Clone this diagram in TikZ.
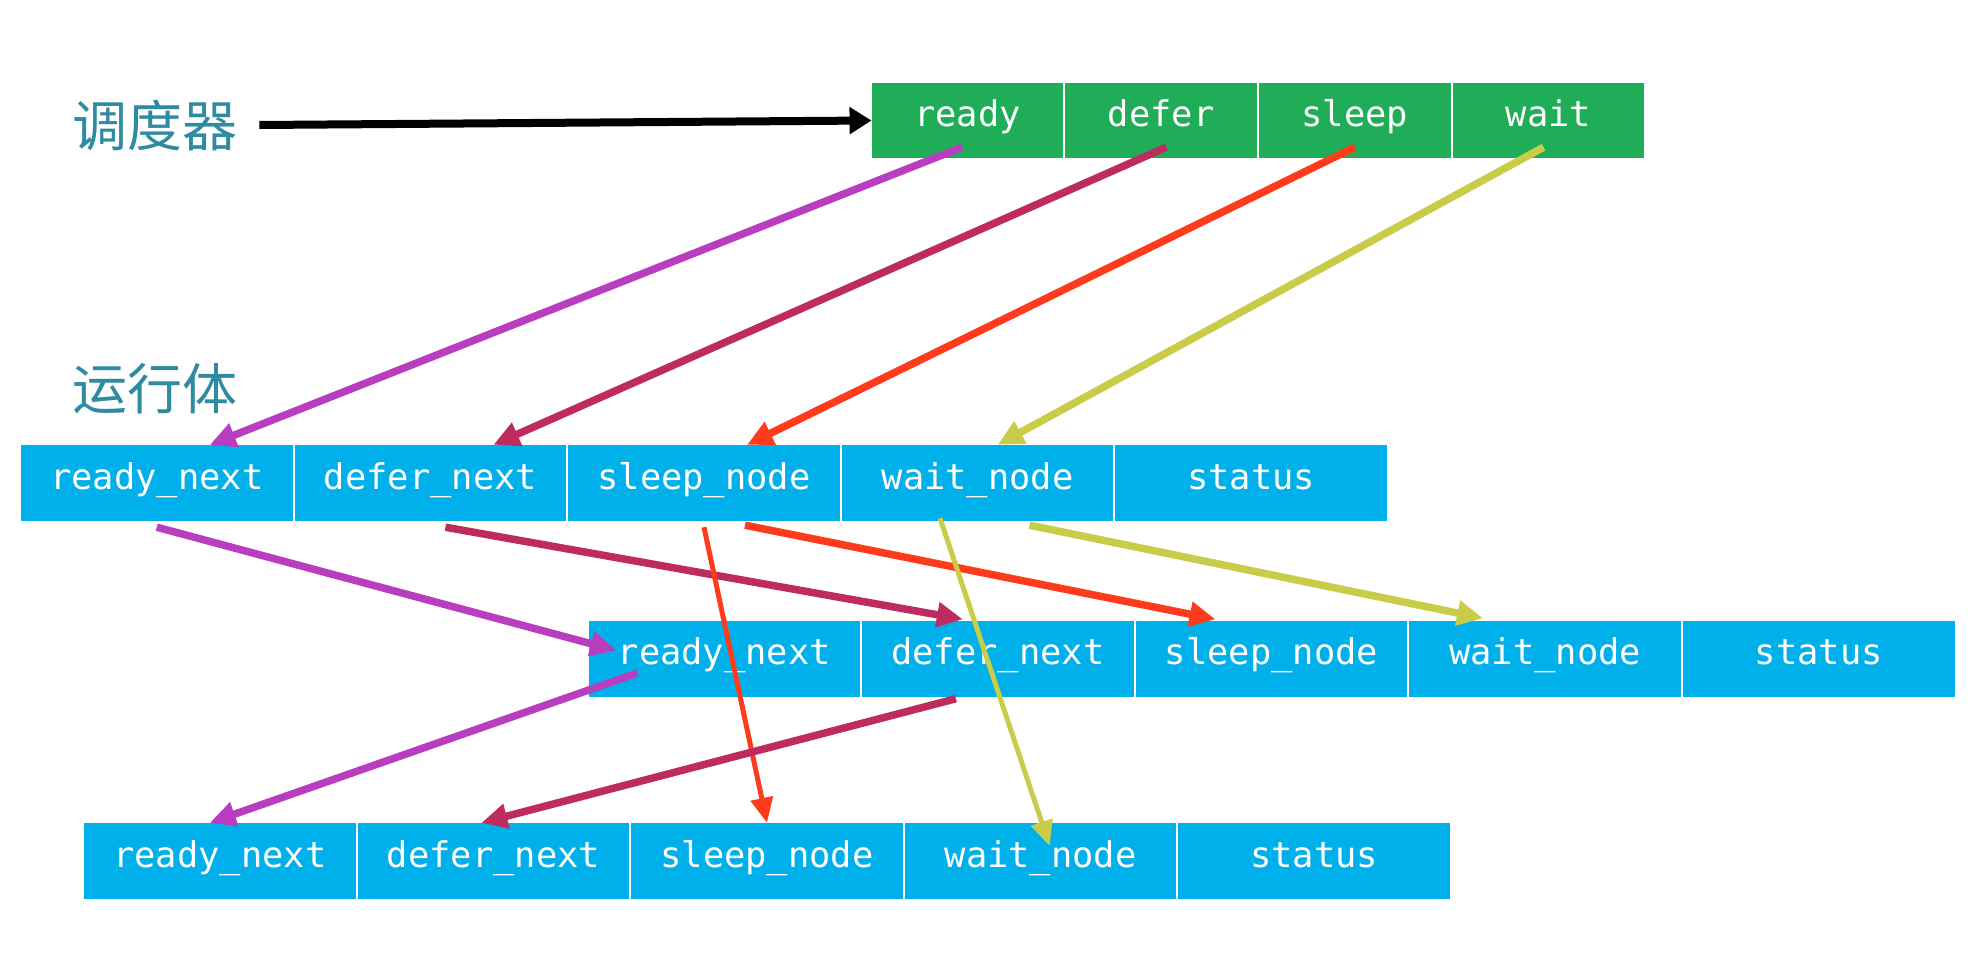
\documentclass[tikz,border=0pt]{standalone}
\usepackage{fontspec}
\newfontfamily\monofnt{DejaVu Sans Mono}
\newfontfamily\cjkfnt{Noto Sans CJK SC}
\usetikzlibrary{arrows.meta,calc}
\definecolor{cgreen}{HTML}{20AD58}
\definecolor{cblue}{HTML}{00B0EA}
\definecolor{cpurple}{HTML}{B93DBF}
\definecolor{ccrimson}{HTML}{BE2C5F}
\definecolor{cred}{HTML}{FF3B1D}
\definecolor{cyellow}{HTML}{C8CC48}
\definecolor{cteal}{HTML}{2E8BA1}
\begin{document}
\begin{tikzpicture}[x=1pt,y=-1pt,
  cellbase/.style={draw=none,inner sep=0pt,text height=21pt,text depth=9pt,
    text=white,font=\monofnt\fontsize{35.4}{40}\selectfont},
  gcell/.style={cellbase,fill=cgreen,minimum width=191.5pt,minimum height=75pt},
  bcell/.style={cellbase,fill=cblue,minimum width=271.6pt,minimum height=76pt},
  title/.style={text=cteal,font=\cjkfnt\fontsize{55}{60}\selectfont,inner sep=0pt,anchor=west},
  link/.style={line width=7.5pt,-{Triangle[length=26pt,width=24pt]}},
  thinlink/.style={line width=5pt,-{Triangle[length=25pt,width=22pt]}},
]
\fill[white] (0,0) rectangle (1968,958);
\path[use as bounding box] (0,0) rectangle (1968,958);

% titles
\node[title] (t1) at (72,125) {调度器};
\node[title] (t2) at (72,389) {运行体};

% scheduler cells
\node[gcell] (g1) at (967.5,120.5) {ready};
\node[gcell] (g2) at (1161.2,120.5) {defer};
\node[gcell] (g3) at (1354.9,120.5) {sleep};
\node[gcell] (g4) at (1548.6,120.5) {wait};

% run body 1
\node[bcell] (b1) at (156.8,483) {ready\_next};
\node[bcell] (b2) at (430.4,483) {defer\_next};
\node[bcell] (b3) at (704.0,483) {sleep\_node};
\node[bcell] (b4) at (977.6,483) {wait\_node};
\node[bcell] (b5) at (1251.2,483) {status};

% run body 2
\node[bcell] (c1) at (724.3,658.5) {ready\_next};
\node[bcell] (c2) at (997.9,658.5) {defer\_next};
\node[bcell] (c3) at (1271.5,658.5) {sleep\_node};
\node[bcell] (c4) at (1545.1,658.5) {wait\_node};
\node[bcell] (c5) at (1818.7,658.5) {status};

% run body 3
\node[bcell] (d1) at (219.8,861) {ready\_next};
\node[bcell] (d2) at (493.4,861) {defer\_next};
\node[bcell] (d3) at (767.0,861) {sleep\_node};
\node[bcell] (d4) at (1040.6,861) {wait\_node};
\node[bcell] (d5) at (1314.2,861) {status};

% scheduler arrow
\draw[line width=8pt,-{Triangle[length=22pt,width=26pt]}]
  ($(t1.east)+(22,0)$ |- g1.west) -- (g1.west);

% scheduler -> run body 1
\draw[link,cpurple]  ($(g1.south)+(-5.5,-11)$) -- ($(b1.north)+(53,0)$);
\draw[link,ccrimson] ($(g2.south)+(5,-11)$) -- ($(b2.north)+(63,0)$);
\draw[link,cred]     ($(g3.south)+(0,-11)$) -- ($(b3.north)+(43,0)$);
\draw[link,cyellow]  ($(g4.south)+(-5,-11)$) -- ($(b4.north)+(20,0)$);

% run body 1 -> run body 2
\draw[link,cpurple]  ($(b1.south)+(0,6)$) -- ($(c1.west)+(28,-8)$);
\draw[link,ccrimson] ($(b2.south)+(15,6)$) -- ($(c2.north)+(-35,-1)$);
\draw[link,cred]     ($(b3.south)+(41,4)$) -- ($(c3.north)+(-56,-1)$);
\draw[link,cyellow]  ($(b4.south)+(52,4)$) -- ($(c4.north)+(-62,-2)$);

% run body 1 -> run body 3
\draw[thinlink,cred]    ($(b3.south)+(0,6)$) -- (d3.north);
\draw[thinlink,cyellow] ($(b4.south)+(-37.6,-3)$) -- ($(d4.north)+(9,23)$);

% run body 2 -> run body 3
\draw[link,cpurple]  ($(c1.center)+(-87,14.5)$) -- ($(d1.north)+(-10,0)$);
\draw[link,ccrimson] ($(c2.south)+(-42,2)$) -- ($(d2.north)+(-12,0)$);
\end{tikzpicture}
\end{document}
